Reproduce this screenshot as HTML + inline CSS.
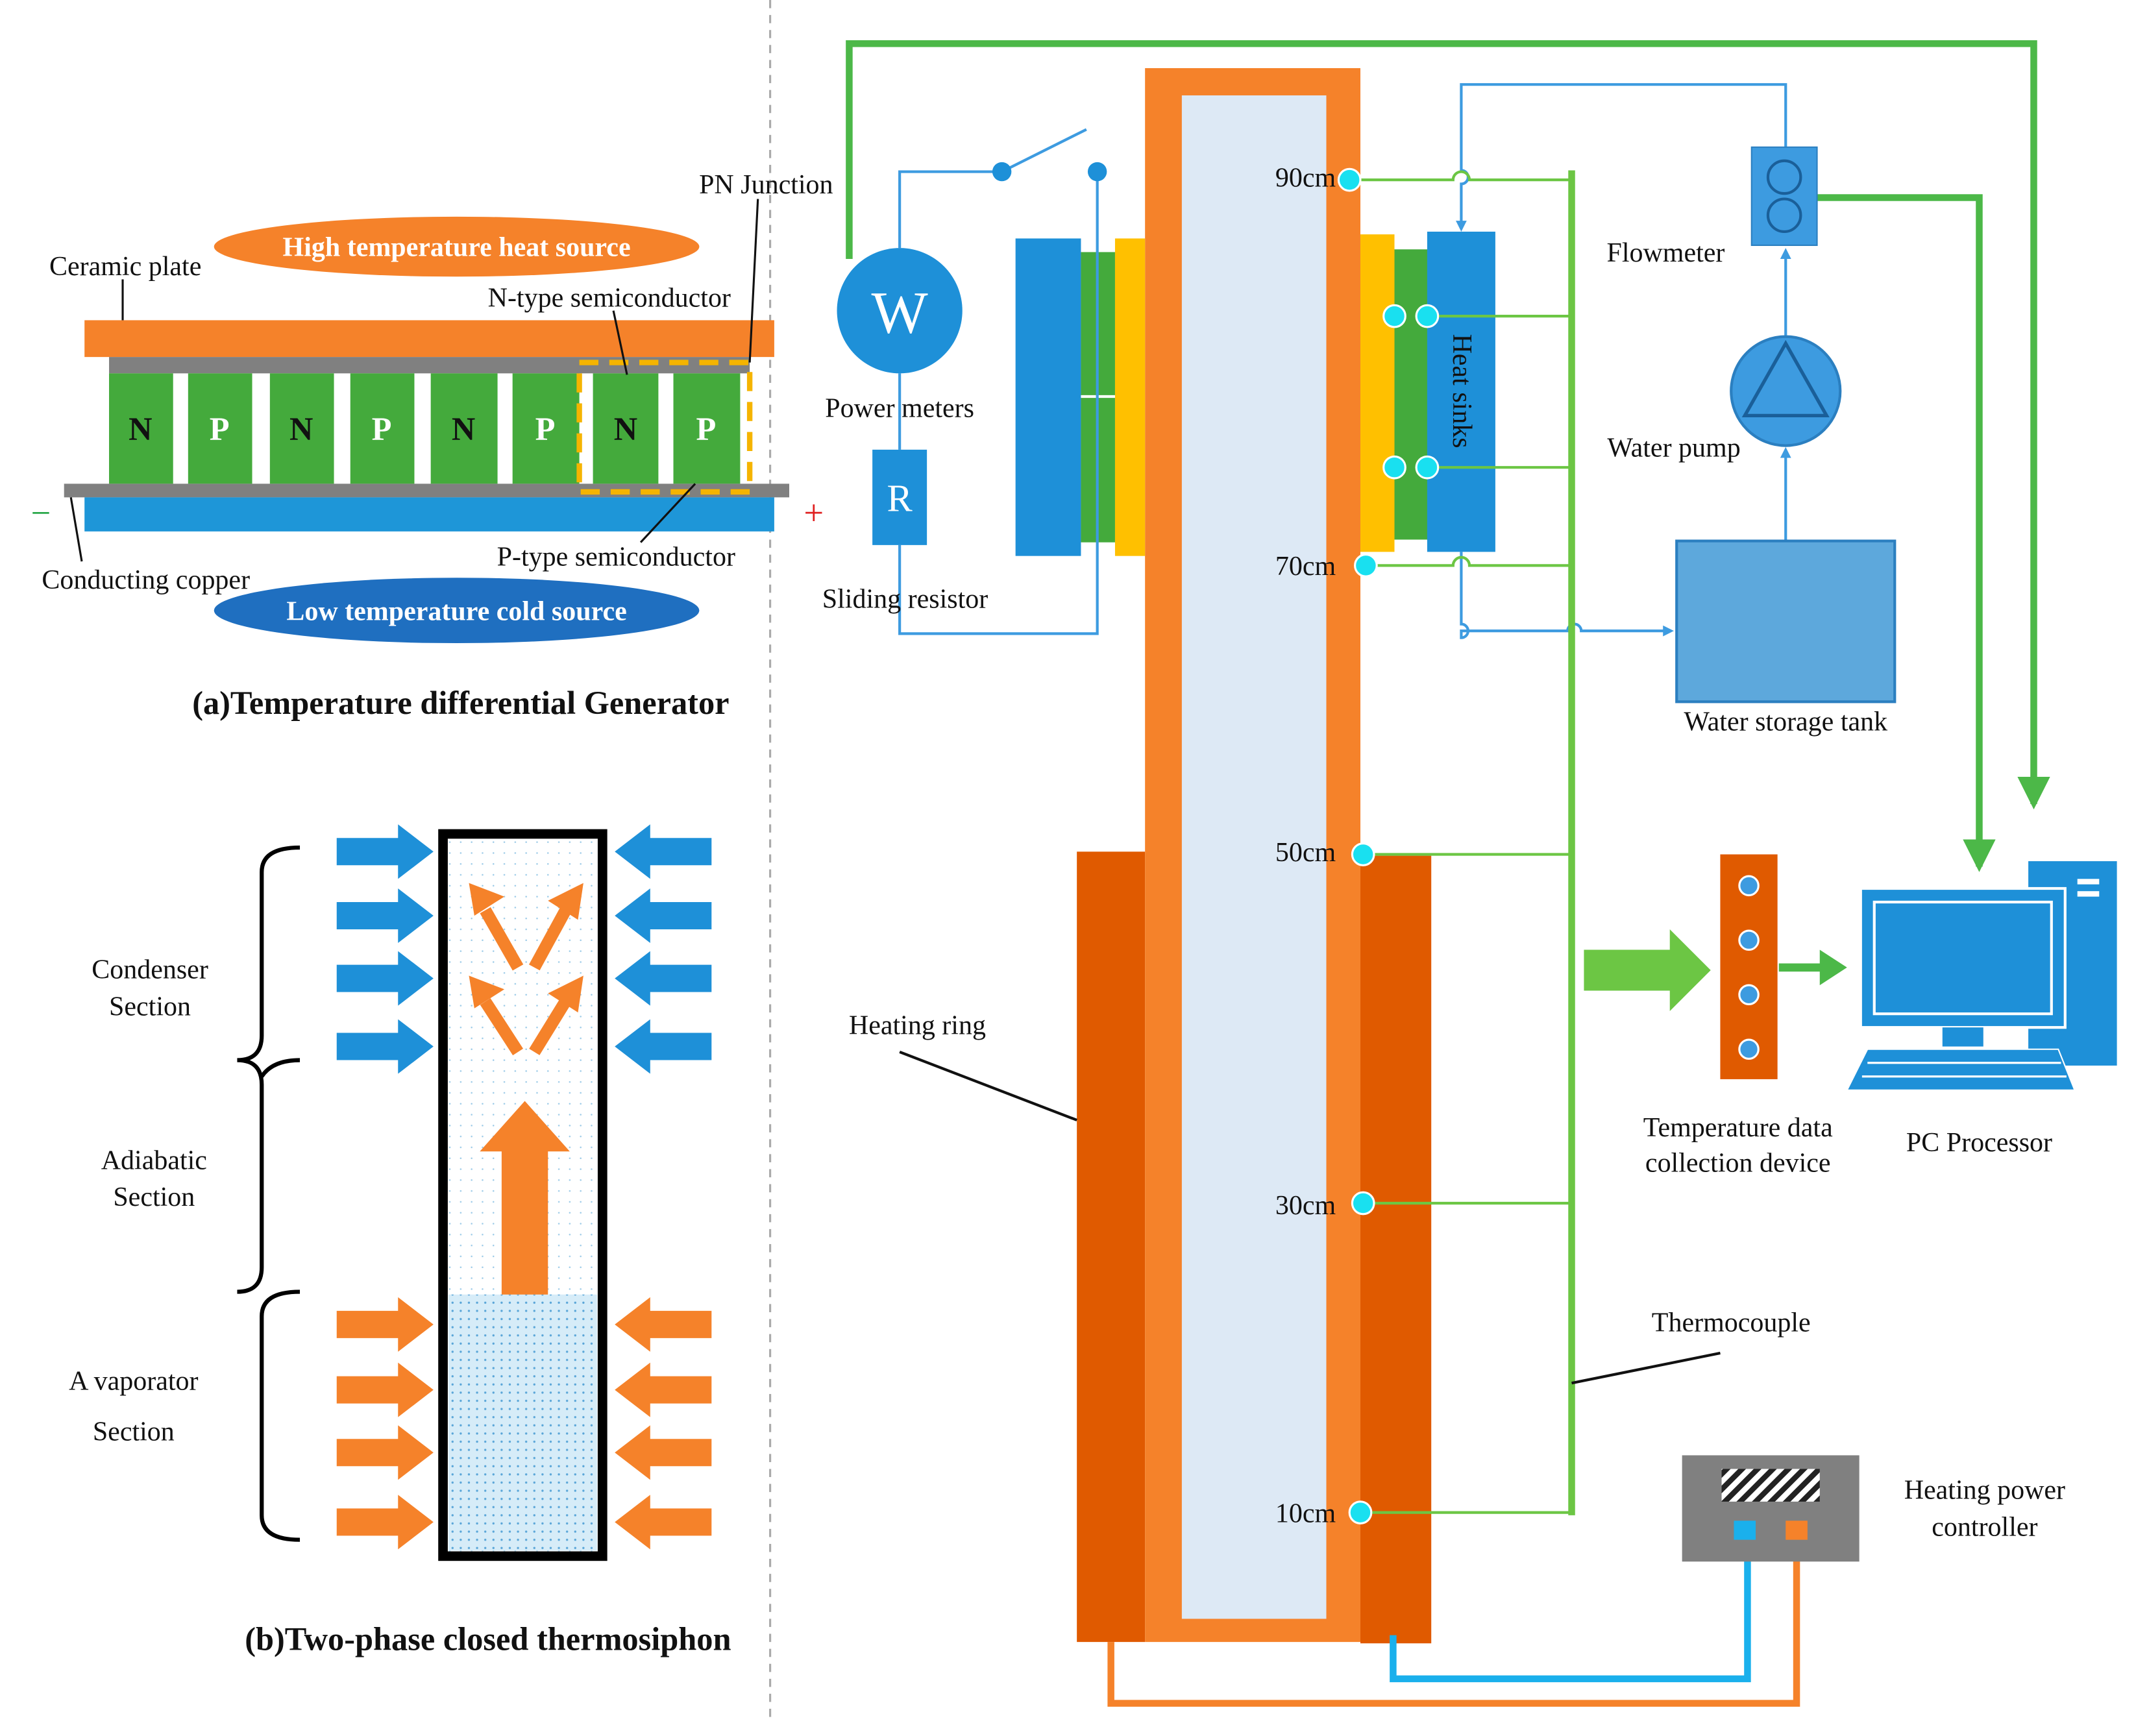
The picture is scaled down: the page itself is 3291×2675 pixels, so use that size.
<!DOCTYPE html>
<html><head><meta charset="utf-8"><style>
html,body{margin:0;padding:0;background:#fff;}
svg{display:block;}
text{font-family:"Liberation Serif",serif;fill:#111;}
</style></head><body>
<svg width="3291" height="2675" viewBox="0 0 1567 1274" preserveAspectRatio="none" xmlns="http://www.w3.org/2000/svg">
<defs>
<pattern id="dots" width="6" height="6" patternUnits="userSpaceOnUse"><rect width="6" height="6" fill="#d6ecf8"/><circle cx="2" cy="2" r="0.8" fill="#5aa6d8"/></pattern>
<pattern id="dots2" width="8" height="8" patternUnits="userSpaceOnUse"><rect width="8" height="8" fill="#fff"/><circle cx="2" cy="2" r="0.6" fill="#9ccbe8"/></pattern>
<pattern id="hatch" width="8" height="8" patternUnits="userSpaceOnUse" patternTransform="rotate(45)"><rect width="8" height="8" fill="#fff"/><rect width="4" height="8" fill="#222"/></pattern>
<marker id="ab" markerWidth="8" markerHeight="8" refX="6" refY="4" orient="auto" markerUnits="userSpaceOnUse"><path d="M0,0 L8,4 L0,8z" fill="#3d9be0"/></marker>
<marker id="ag" markerWidth="24" markerHeight="24" refX="20" refY="12" orient="auto" markerUnits="userSpaceOnUse"><path d="M0,0 L24,12 L0,24z" fill="#4cb848"/></marker>
</defs>
<line x1="565" y1="0" x2="565" y2="1262" stroke="#aaa" stroke-width="1.5" stroke-dasharray="6,5"/>

<ellipse cx="335" cy="181" rx="178" ry="22" fill="#f5822a"/>
<text x="335" y="188" text-anchor="middle" font-size="20" font-weight="bold" style="fill:#fff">High temperature heat source</text>
<rect x="62" y="235" width="506" height="27" fill="#f5822a"/>
<rect x="80" y="262" width="470" height="12" fill="#808080"/>
<g fill="#44aa3c">
<rect x="80" y="274" width="47" height="81"/><rect x="138" y="274" width="47" height="81"/>
<rect x="198" y="274" width="47" height="81"/><rect x="257" y="274" width="47" height="81"/>
<rect x="316" y="274" width="49" height="81"/><rect x="376" y="274" width="49" height="81"/>
<rect x="435" y="274" width="48" height="81"/><rect x="494" y="274" width="49" height="81"/>
</g>
<g font-size="24" font-weight="bold" text-anchor="middle">
<text x="103" y="323">N</text><text x="161" y="323" style="fill:#fff">P</text>
<text x="221" y="323">N</text><text x="280" y="323" style="fill:#fff">P</text>
<text x="340" y="323">N</text><text x="400" y="323" style="fill:#fff">P</text>
<text x="459" y="323">N</text><text x="518" y="323" style="fill:#fff">P</text>
</g>
<rect x="47" y="355" width="532" height="10" fill="#808080"/>
<rect x="62" y="365" width="506" height="25" fill="#1e96d8"/>
<rect x="425" y="266" width="125" height="95" fill="none" stroke="#f5b400" stroke-width="4" stroke-dasharray="14,8"/>
<text x="30" y="385" text-anchor="middle" font-size="26" style="fill:#2aa84a">−</text>
<text x="597" y="385" text-anchor="middle" font-size="26" style="fill:#e02020">+</text>
<g stroke="#111" stroke-width="1.5">
<line x1="90" y1="205" x2="90" y2="235"/><line x1="556" y1="146" x2="550" y2="266"/>
<line x1="450" y1="228" x2="460" y2="275"/><line x1="470" y1="398" x2="510" y2="355"/>
<line x1="60" y1="412" x2="52" y2="365"/>
</g>
<g font-size="20">
<text x="92" y="202" text-anchor="middle">Ceramic plate</text>
<text x="562" y="142" text-anchor="middle">PN Junction</text>
<text x="447" y="225" text-anchor="middle">N-type semiconductor</text>
<text x="452" y="415" text-anchor="middle">P-type semiconductor</text>
<text x="107" y="432" text-anchor="middle">Conducting copper</text>
</g>
<ellipse cx="335" cy="448" rx="178" ry="24" fill="#1f6fc0"/>
<text x="335" y="455" text-anchor="middle" font-size="20" font-weight="bold" style="fill:#fff">Low temperature cold source</text>
<text x="338" y="524" text-anchor="middle" font-size="24" font-weight="bold">(a)Temperature differential Generator</text>

<rect x="325" y="612" width="117" height="530" fill="url(#dots2)" stroke="#000" stroke-width="7"/>
<rect x="329" y="950" width="109" height="188" fill="url(#dots)"/>
<g fill="#1e90d8">
<path d="M247,615 h45 v-10 l26,20 l-26,20 v-10 h-45z"/>
<path d="M247,662 h45 v-10 l26,20 l-26,20 v-10 h-45z"/>
<path d="M247,708 h45 v-10 l26,20 l-26,20 v-10 h-45z"/>
<path d="M247,758 h45 v-10 l26,20 l-26,20 v-10 h-45z"/>
<path d="M522,615 h-45 v-10 l-26,20 l26,20 v-10 h45z"/>
<path d="M522,662 h-45 v-10 l-26,20 l26,20 v-10 h45z"/>
<path d="M522,708 h-45 v-10 l-26,20 l26,20 v-10 h45z"/>
<path d="M522,758 h-45 v-10 l-26,20 l26,20 v-10 h45z"/>
</g>
<g fill="#f5822a">
<path d="M247,962 h45 v-10 l26,20 l-26,20 v-10 h-45z"/>
<path d="M247,1010 h45 v-10 l26,20 l-26,20 v-10 h-45z"/>
<path d="M247,1056 h45 v-10 l26,20 l-26,20 v-10 h-45z"/>
<path d="M247,1107 h45 v-10 l26,20 l-26,20 v-10 h-45z"/>
<path d="M522,962 h-45 v-10 l-26,20 l26,20 v-10 h45z"/>
<path d="M522,1010 h-45 v-10 l-26,20 l26,20 v-10 h45z"/>
<path d="M522,1056 h-45 v-10 l-26,20 l26,20 v-10 h45z"/>
<path d="M522,1107 h-45 v-10 l-26,20 l26,20 v-10 h45z"/>
<path d="M368,950 v-105 h-16 l33,-37 l33,37 h-16 v105z"/>
</g>
<g stroke="#f5822a" stroke-width="9" fill="none">
<line x1="380" y1="710" x2="356" y2="668"/><line x1="392" y1="710" x2="416" y2="666"/>
<line x1="380" y1="772" x2="356" y2="735"/><line x1="392" y1="772" x2="416" y2="733"/>
</g>
<g fill="#f5822a">
<path d="M344,648 l26,10 l-22,14z"/><path d="M428,648 l-4,27 l-22,-14z"/>
<path d="M344,716 l26,10 l-22,14z"/><path d="M428,716 l-4,27 l-22,-14z"/>
</g>
<g stroke="#000" stroke-width="3" fill="none">
<path d="M220,622 Q192,622 192,640 V760 Q192,778 174,778 Q192,778 192,796 V930 Q192,948 174,948"/>
<path d="M220,778 Q200,778 192,790"/>
<path d="M220,948 Q192,948 192,966 V1112 Q192,1130 220,1130"/>
</g>
<g font-size="20" text-anchor="middle">
<text x="110" y="718">Condenser</text><text x="110" y="745">Section</text>
<text x="113" y="858">Adiabatic</text><text x="113" y="885">Section</text>
<text x="98" y="1020">A vaporator</text><text x="98" y="1057">Section</text>
</g>
<text x="358" y="1211" text-anchor="middle" font-size="24" font-weight="bold">(b)Two-phase closed thermosiphon</text>

<path d="M623,190 V32 H1492 V590" fill="none" stroke="#4cb848" stroke-width="5" marker-end="url(#ag)"/>
<path d="M1333,145 H1452 V636" fill="none" stroke="#4cb848" stroke-width="5" marker-end="url(#ag)"/>

<rect x="790" y="625" width="50" height="580" fill="#e05a00"/>
<rect x="998" y="628" width="52" height="578" fill="#e05a00"/>
<rect x="840" y="50" width="158" height="1155" fill="#f5822a"/>
<rect x="867" y="70" width="106" height="1118" fill="#dde9f5"/>

<path d="M815,1205 V1250 H1318 V1128" fill="none" stroke="#f5822a" stroke-width="5"/>
<path d="M1022,1200 V1232 H1282 V1128" fill="none" stroke="#1ab0ec" stroke-width="5"/>
<rect x="1234" y="1068" width="130" height="78" fill="#808080"/>
<rect x="1263" y="1078" width="72" height="24" fill="url(#hatch)"/>
<rect x="1272" y="1116" width="16" height="14" fill="#1ab0ec"/>
<rect x="1310" y="1116" width="16" height="14" fill="#f5822a"/>
<g font-size="20" text-anchor="middle">
<text x="1456" y="1100">Heating power</text><text x="1456" y="1127">controller</text>
</g>

<rect x="745" y="175" width="48" height="233" fill="#1e90d8"/>
<rect x="793" y="185" width="25" height="213" fill="#44aa3c"/>
<rect x="818" y="175" width="22" height="233" fill="#ffc000"/>
<line x1="793" y1="291" x2="818" y2="291" stroke="#fff" stroke-width="2"/>
<rect x="998" y="172" width="25" height="233" fill="#ffc000"/>
<rect x="1023" y="183" width="25" height="213" fill="#44aa3c"/>
<rect x="1047" y="170" width="50" height="235" fill="#1e90d8"/>
<text transform="translate(1066,287) rotate(90)" text-anchor="middle" font-size="20">Heat sinks</text>

<path d="M1072,405 V458 a5,5 0 0 1 0,10 V463 H1150 a5,5 0 0 1 10,0 H1226" fill="none" stroke="#3d9be0" stroke-width="2" marker-end="url(#ab)"/>
<path d="M1310,108 V62 H1072 V125 a5,5 0 0 1 0,10 V168" fill="none" stroke="#3d9be0" stroke-width="2" marker-end="url(#ab)"/>
<line x1="1310" y1="246" x2="1310" y2="184" stroke="#3d9be0" stroke-width="2" marker-end="url(#ab)"/>
<line x1="1310" y1="397" x2="1310" y2="330" stroke="#3d9be0" stroke-width="2" marker-end="url(#ab)"/>
<rect x="1285" y="108" width="48" height="72" fill="#3d9be0" stroke="#2b7fc0"/>
<circle cx="1309" cy="130" r="12" fill="#3d9be0" stroke="#1a5f99" stroke-width="2"/>
<circle cx="1309" cy="158" r="12" fill="#3d9be0" stroke="#1a5f99" stroke-width="2"/>
<circle cx="1310" cy="287" r="40" fill="#3d9be0" stroke="#2b7fc0" stroke-width="2"/>
<path d="M1310,252 L1280,305 H1340z" fill="none" stroke="#1a5f99" stroke-width="2.5"/>
<rect x="1230" y="397" width="160" height="118" fill="#5da8dc" stroke="#2b7fc0" stroke-width="2"/>
<g font-size="20" text-anchor="middle">
<text x="1222" y="192">Flowmeter</text>
<text x="1228" y="335">Water pump</text>
<text x="1310" y="536">Water storage tank</text>
</g>

<g stroke="#6cc644" stroke-width="2" fill="none">
<path d="M990,132 H1066 a6,6 0 0 1 12,0 H1153"/>
<line x1="1047" y1="232" x2="1153" y2="232"/>
<line x1="1047" y1="343" x2="1153" y2="343"/>
<path d="M1002,415 H1066 a6,6 0 0 1 12,0 H1153"/>
<line x1="1000" y1="627" x2="1153" y2="627"/>
<line x1="1000" y1="883" x2="1153" y2="883"/>
<line x1="998" y1="1110" x2="1153" y2="1110"/>
</g>
<line x1="1153" y1="125" x2="1153" y2="1112" stroke="#6cc644" stroke-width="5"/>
<g fill="#19e0f0" stroke="#fff" stroke-width="1.5">
<circle cx="990" cy="132" r="8"/><circle cx="1002" cy="415" r="8"/><circle cx="1000" cy="627" r="8"/>
<circle cx="1000" cy="883" r="8"/><circle cx="998" cy="1110" r="8"/>
<circle cx="1023" cy="232" r="8"/><circle cx="1047" cy="232" r="8"/>
<circle cx="1023" cy="343" r="8"/><circle cx="1047" cy="343" r="8"/>
</g>
<g font-size="20" text-anchor="end">
<text x="980" y="137">90cm</text><text x="980" y="422">70cm</text><text x="980" y="632">50cm</text>
<text x="980" y="891">30cm</text><text x="980" y="1117">10cm</text>
</g>

<g stroke="#3d9be0" stroke-width="2" fill="none">
<path d="M660,182 V126 H735"/>
<line x1="735" y1="126" x2="797" y2="95"/>
<path d="M805,126 V465 H660 V400"/>
<line x1="660" y1="330" x2="660" y2="274"/>
</g>
<circle cx="735" cy="126" r="7" fill="#1e90d8"/>
<circle cx="805" cy="126" r="7" fill="#1e90d8"/>
<circle cx="660" cy="228" r="46" fill="#1e90d8"/>
<text x="660" y="244" text-anchor="middle" font-size="44" style="fill:#fff">W</text>
<rect x="640" y="330" width="40" height="70" fill="#1e90d8"/>
<text x="660" y="375" text-anchor="middle" font-size="28" style="fill:#fff">R</text>
<g font-size="20" text-anchor="middle">
<text x="660" y="306">Power meters</text>
<text x="664" y="446">Sliding resistor</text>
</g>

<path d="M1162,697 H1225 V682 L1255,712 L1225,742 V727 H1162z" fill="#6cc644"/>
<path d="M1305,707 H1335 V697 L1355,710 L1335,723 V713 H1305z" fill="#4cb848"/>
<rect x="1262" y="627" width="42" height="165" fill="#e05a00"/>
<g fill="#3d9be0" stroke="#fff" stroke-width="1.5">
<circle cx="1283" cy="650" r="7"/><circle cx="1283" cy="690" r="7"/><circle cx="1283" cy="730" r="7"/><circle cx="1283" cy="770" r="7"/>
</g>
<rect x="1488" y="632" width="65" height="150" fill="#1e90d8"/>
<rect x="1524" y="645" width="16" height="4" fill="#fff"/><rect x="1524" y="654" width="16" height="4" fill="#fff"/>
<rect x="1365" y="652" width="150" height="102" fill="#1e90d8" stroke="#fff" stroke-width="2"/>
<rect x="1375" y="662" width="130" height="82" fill="#1e90d8" stroke="#fff" stroke-width="2"/>
<rect x="1425" y="754" width="30" height="14" fill="#1e90d8"/>
<path d="M1370,770 H1510 L1522,800 H1355z" fill="#1e90d8" stroke="#fff" stroke-width="1"/>
<g stroke="#fff" stroke-width="1.5"><line x1="1370" y1="780" x2="1512" y2="780"/><line x1="1366" y1="790" x2="1516" y2="790"/></g>
<g font-size="20" text-anchor="middle">
<text x="1275" y="834">Temperature data</text><text x="1275" y="860">collection device</text>
<text x="1452" y="845">PC Processor</text>
<text x="673" y="759">Heating ring</text>
<text x="1270" y="977">Thermocouple</text>
</g>
<line x1="660" y1="772" x2="790" y2="822" stroke="#111" stroke-width="2"/>
<line x1="1262" y1="993" x2="1153" y2="1015" stroke="#111" stroke-width="2"/>
</svg>
</body></html>
